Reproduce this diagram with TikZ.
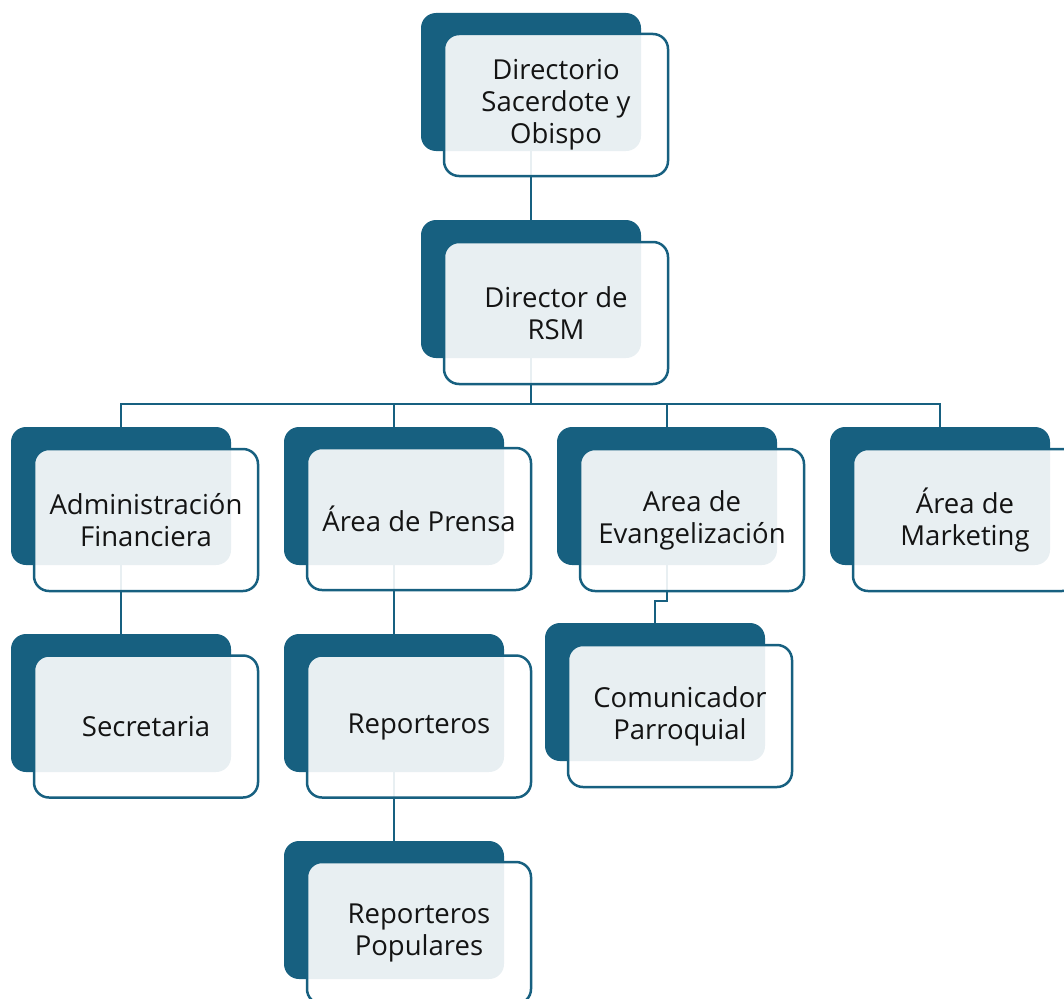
\documentclass[tikz,border=0pt]{standalone}
\usepackage{fontspec}
\setmainfont{Open Sans}
\definecolor{dkblue}{RGB}{23,96,128}
\tikzset{
  back/.style={rectangle, rounded corners=15pt, fill=dkblue, minimum width=220pt, minimum height=138pt, inner sep=0pt},
  front/.style={rectangle, rounded corners=15pt, draw=dkblue, line width=2.5pt, fill=white, fill opacity=0.9, text opacity=1, minimum width=224pt, minimum height=142pt, inner sep=0pt, align=center, font=\fontsize{27.5}{32}\selectfont, text=black!92},
  conn/.style={draw=dkblue, line width=2.5pt}
}
\begin{document}
\begin{tikzpicture}[x=1pt,y=-1pt]
\useasboundingbox (0,0) rectangle (1064,998);
\clip (0,0) rectangle (1064,998);
% back shapes
\node[back] (top) at (531,82) {};
\node[back] (dir) at (531,289) {};
\node[back] (adm) at (121,496) {};
\node[back] (pre) at (394,496) {};
\node[back] (eva) at (667,496) {};
\node[back] (mkt) at (940,496) {};
\node[back] (sec) at (121,703) {};
\node[back] (rep) at (394,703) {};
\node[back] (com) at (655,692) {};
\node[back] (pop) at (394,910) {};
% connectors
\coordinate (busy) at (0,404);
\coordinate (ebend) at (0,601);
\path[conn] (top.south) -- (dir.north);
\path[conn] (dir.south) -- (dir.south |- busy) -| (adm.north);
\path[conn] (dir.south |- busy) -| (pre.north);
\path[conn] (dir.south |- busy) -| (eva.north);
\path[conn] (dir.south |- busy) -| (mkt.north);
\path[conn] (adm.south) -- (sec.north);
\path[conn] (pre.south) -- (rep.north);
\path[conn] (rep.south) -- (pop.north);
\path[conn] (eva.south) -- (eva.south |- ebend) -| (com.north);
% front shapes with text
\node[front] (topf) at (556,105) {Directorio\\Sacerdote y\\Obispo};
\node[front] (dirf) at (556,313) {Director de\\RSM};
\node[front] (admf) at (146,520) {Administración\\Financiera};
\node[front] (pref) at (419,519) {Área de Prensa};
\node[front] (evaf) at (692,520) {Area de\\Evangelización};
\node[front] (mktf) at (965,520) {Área de\\Marketing};
\node[front] (secf) at (146,726.5) {Secretaria};
\node[front] (repf) at (419,726.5) {Reporteros};
\node[front] (comf) at (680,716) {Comunicador\\Parroquial};
\node[front] (popf) at (419,933) {Reporteros\\Populares};
\end{tikzpicture}
\end{document}
